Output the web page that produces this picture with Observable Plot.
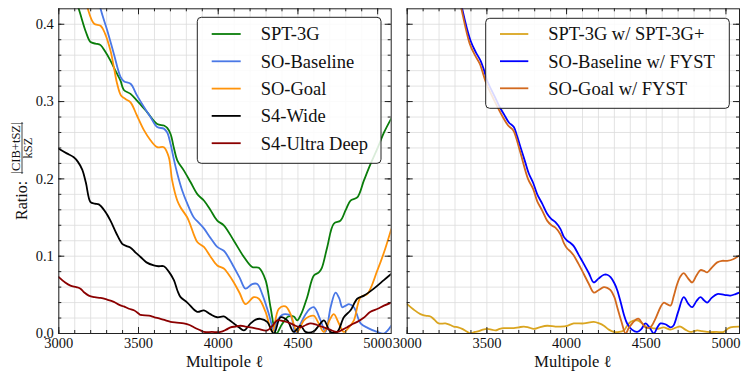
<!DOCTYPE html>
<html>
<head>
<meta charset="utf-8">
<script src="https://cdn.jsdelivr.net/npm/d3@7"></script>
<script src="https://cdn.jsdelivr.net/npm/@observablehq/plot@0.6"></script>
<style>
  body { margin: 0; background: #fff; }
  #wrap { position: relative; width: 748px; height: 379px; overflow: hidden; font-family: "Liberation Serif", "DejaVu Serif", serif; }
  .panel { position: absolute; top: 0; }
  #overlay { position: absolute; left: 0; top: 0; pointer-events: none; }
</style>
</head>
<body>
<div id="wrap">
  <div class="panel" id="left" style="left:0"></div>
  <div class="panel" id="right" style="left:398px"></div>
  <svg id="overlay" width="748" height="379"></svg>
</div>
<script>
// ---- tick labels ----
const xMajor = [3000, 3500, 4000, 4500, 5000];
const yMajor = [0.0, 0.1, 0.2, 0.3, 0.4];
const xMinor = d3.range(3000, 5100, 100);
const yMinor = d3.range(0, 0.42, 0.02);

// ---- left panel series: [multipole, ratio] ----
const spt3g = [[3060,0.46],[3125,0.42],[3170,0.39],[3199,0.377],[3230,0.375],[3262,0.373],[3290,0.365],[3324,0.353],[3360,0.338],[3387,0.327],[3408,0.315],[3450,0.31],[3492,0.301],[3555,0.286],[3617,0.271],[3659,0.269],[3680,0.266],[3701,0.258],[3722,0.24],[3743,0.224],[3784,0.211],[3826,0.196],[3870,0.18],[3910,0.172],[3950,0.16],[3994,0.146],[4035,0.14],[4098,0.12],[4161,0.099],[4213,0.086],[4255,0.085],[4297,0.069],[4328,0.034],[4365,0.0],[4400,0.012],[4440,0.022],[4474,0.022],[4495,0.017],[4520,0.025],[4558,0.047],[4600,0.075],[4631,0.079],[4650,0.085],[4684,0.112],[4725,0.142],[4767,0.146],[4800,0.16],[4830,0.172],[4872,0.176],[4914,0.198],[4955,0.219],[5000,0.24],[5040,0.26],[5085,0.278]];
const soBaseline = [[3200,0.48],[3262,0.42],[3304,0.392],[3345,0.362],[3387,0.332],[3410,0.326],[3450,0.323],[3490,0.308],[3534,0.293],[3575,0.28],[3617,0.267],[3659,0.265],[3680,0.26],[3701,0.245],[3722,0.225],[3743,0.207],[3774,0.185],[3806,0.168],[3847,0.15],[3870,0.145],[3910,0.136],[3950,0.124],[3994,0.112],[4035,0.107],[4060,0.1],[4098,0.086],[4135,0.072],[4171,0.058],[4213,0.064],[4245,0.064],[4276,0.051],[4318,0.025],[4349,0.004],[4370,0.017],[4400,0.024],[4422,0.025],[4454,0.023],[4485,0.0],[4515,0.012],[4548,0.025],[4575,0.032],[4600,0.034],[4642,0.017],[4673,0.002],[4705,0.034],[4736,0.053],[4760,0.045],[4778,0.034],[4800,0.036],[4820,0.038],[4851,0.034],[4893,0.013],[4940,0.007],[4997,0.002],[5039,0.0],[5085,0.01]];
const soGoal = [[3140,0.46],[3182,0.42],[3220,0.401],[3262,0.398],[3290,0.388],[3324,0.366],[3345,0.345],[3366,0.323],[3390,0.308],[3420,0.303],[3450,0.299],[3490,0.282],[3534,0.263],[3575,0.25],[3617,0.241],[3659,0.241],[3690,0.228],[3711,0.198],[3743,0.172],[3764,0.163],[3806,0.15],[3826,0.14],[3847,0.128],[3870,0.118],[3910,0.112],[3950,0.1],[3994,0.088],[4035,0.084],[4060,0.078],[4098,0.066],[4135,0.052],[4171,0.038],[4223,0.047],[4255,0.045],[4297,0.028],[4339,0.002],[4380,0.032],[4422,0.035],[4454,0.025],[4495,0.002],[4537,0.017],[4570,0.022],[4600,0.023],[4630,0.013],[4663,0.002],[4700,0.018],[4725,0.025],[4757,0.013],[4788,0.002],[4820,0.008],[4851,0.017],[4893,0.047],[4935,0.051],[4997,0.081],[5040,0.105],[5085,0.135]];
const s4Wide = [[3000,0.239],[3050,0.233],[3094,0.228],[3120,0.222],[3147,0.212],[3170,0.195],[3199,0.17],[3225,0.168],[3251,0.167],[3290,0.158],[3324,0.146],[3360,0.13],[3398,0.116],[3425,0.113],[3450,0.111],[3480,0.105],[3513,0.099],[3550,0.092],[3596,0.088],[3625,0.087],[3659,0.087],[3690,0.08],[3722,0.069],[3745,0.055],[3764,0.047],[3806,0.04],[3868,0.028],[3910,0.03],[3950,0.025],[3994,0.021],[4035,0.022],[4065,0.018],[4098,0.013],[4130,0.008],[4161,0.004],[4203,0.013],[4235,0.018],[4265,0.019],[4307,0.015],[4349,0.0],[4391,0.021],[4433,0.017],[4474,0.002],[4516,0.01],[4548,0.002],[4600,0.003],[4630,0.01],[4663,0.017],[4705,0.002],[4746,0.002],[4788,0.021],[4830,0.03],[4872,0.045],[4914,0.049],[4976,0.058],[5039,0.069],[5085,0.077]];
const s4UltraDeep = [[3000,0.073],[3040,0.066],[3073,0.062],[3110,0.06],[3136,0.058],[3160,0.053],[3188,0.049],[3225,0.047],[3262,0.046],[3300,0.044],[3345,0.041],[3380,0.037],[3408,0.035],[3440,0.032],[3471,0.03],[3500,0.026],[3513,0.024],[3565,0.023],[3600,0.021],[3638,0.019],[3670,0.017],[3701,0.015],[3740,0.014],[3784,0.013],[3820,0.011],[3847,0.008],[3889,0.004],[3910,0.002],[3960,0.002],[4015,0.002],[4050,0.005],[4077,0.008],[4110,0.009],[4140,0.01],[4170,0.009],[4203,0.008],[4250,0.006],[4307,0.004],[4340,0.01],[4370,0.017],[4410,0.016],[4454,0.013],[4485,0.01],[4516,0.008],[4550,0.011],[4579,0.013],[4620,0.011],[4663,0.008],[4700,0.005],[4746,0.002],[4780,0.005],[4809,0.008],[4840,0.012],[4872,0.015],[4910,0.02],[4955,0.028],[5000,0.032],[5039,0.036],[5085,0.04]];

// ---- right panel series ----
const sptPlus = [[3000,0.038],[3040,0.031],[3083,0.025],[3115,0.023],[3146,0.022],[3170,0.018],[3198,0.013],[3240,0.013],[3270,0.011],[3292,0.009],[3320,0.008],[3345,0.006],[3370,0.003],[3397,0.0],[3425,0.002],[3449,0.003],[3475,0.005],[3502,0.006],[3530,0.005],[3554,0.004],[3580,0.006],[3606,0.007],[3640,0.007],[3669,0.007],[3700,0.008],[3732,0.009],[3760,0.008],[3794,0.006],[3830,0.008],[3878,0.01],[3930,0.009],[3962,0.009],[4004,0.01],[4045,0.013],[4108,0.013],[4171,0.015],[4205,0.013],[4234,0.01],[4265,0.005],[4296,0.002],[4330,0.002],[4359,0.004],[4380,0.01],[4401,0.015],[4443,0.017],[4475,0.013],[4505,0.008],[4540,0.007],[4568,0.006],[4590,0.007],[4610,0.008],[4652,0.005],[4690,0.008],[4714,0.009],[4745,0.005],[4777,0.002],[4800,0.003],[4819,0.004],[4850,0.003],[4882,0.002],[4940,0.002],[4986,0.002],[5010,0.006],[5028,0.008],[5085,0.009]];
const soBaseFYST = [[3300,0.47],[3345,0.42],[3397,0.379],[3430,0.364],[3460,0.353],[3480,0.342],[3502,0.327],[3550,0.306],[3580,0.293],[3606,0.284],[3638,0.273],[3669,0.267],[3690,0.255],[3711,0.241],[3740,0.222],[3763,0.207],[3790,0.195],[3816,0.18],[3847,0.168],[3878,0.155],[3905,0.148],[3930,0.144],[3962,0.135],[3983,0.125],[4004,0.12],[4025,0.117],[4045,0.113],[4075,0.102],[4108,0.09],[4140,0.078],[4171,0.066],[4200,0.071],[4234,0.076],[4255,0.076],[4276,0.073],[4300,0.065],[4318,0.056],[4340,0.04],[4359,0.025],[4380,0.013],[4410,0.005],[4443,0.002],[4470,0.006],[4495,0.013],[4520,0.008],[4547,0.0],[4570,0.008],[4589,0.013],[4620,0.012],[4652,0.008],[4670,0.01],[4700,0.028],[4735,0.047],[4765,0.038],[4788,0.034],[4815,0.042],[4840,0.047],[4862,0.043],[4882,0.04],[4910,0.046],[4945,0.051],[4990,0.05],[5028,0.049],[5060,0.051],[5085,0.053]];
const soGoalFYST = [[3290,0.47],[3340,0.42],[3392,0.375],[3425,0.36],[3455,0.349],[3497,0.323],[3545,0.302],[3600,0.28],[3633,0.269],[3665,0.263],[3706,0.237],[3758,0.2],[3790,0.187],[3816,0.171],[3847,0.159],[3878,0.146],[3905,0.14],[3930,0.137],[3962,0.128],[3983,0.117],[4004,0.11],[4025,0.106],[4045,0.101],[4075,0.09],[4108,0.077],[4140,0.064],[4171,0.053],[4200,0.056],[4234,0.06],[4255,0.059],[4276,0.056],[4300,0.047],[4318,0.034],[4345,0.015],[4370,0.0],[4390,0.007],[4412,0.013],[4435,0.018],[4453,0.019],[4475,0.013],[4495,0.008],[4526,0.008],[4555,0.018],[4589,0.034],[4610,0.04],[4630,0.038],[4652,0.036],[4672,0.048],[4694,0.064],[4715,0.074],[4735,0.078],[4760,0.072],[4788,0.066],[4815,0.075],[4840,0.082],[4862,0.081],[4882,0.079],[4910,0.085],[4945,0.092],[4975,0.094],[5008,0.094],[5045,0.096],[5085,0.101]];

const leftSeries = [
  {name: "SPT-3G", data: spt3g, color: "#0a7d0a"},
  {name: "SO-Baseline", data: soBaseline, color: "#4a78e6"},
  {name: "SO-Goal", data: soGoal, color: "#ff930a"},
  {name: "S4-Wide", data: s4Wide, color: "#000000"},
  {name: "S4-Ultra Deep", data: s4UltraDeep, color: "#8b0000"}
];
const rightSeries = [
  {name: "SPT-3G w/ SPT-3G+", data: sptPlus, color: "#daa520"},
  {name: "SO-Baseline w/ FYST", data: soBaseFYST, color: "#0000ff"},
  {name: "SO-Goal w/ FYST", data: soGoalFYST, color: "#d2691e"}
];

const H = 379, MT = 8.3, MB = 46;
const innerH = H - MT - MB;
const xDomain = [3000, 5085];
const yDomain = [0, 0.42];

function panel(series, {width, marginLeft, marginRight, yLabels}) {
  const innerW = width - marginLeft - marginRight;
  const marks = [
    Plot.gridX(xMinor, {stroke: "#dcdcdc", strokeOpacity: 1, strokeWidth: 0.8}),
    Plot.gridY(yMinor, {stroke: "#dcdcdc", strokeOpacity: 1, strokeWidth: 0.8}),
    ...series.map(s => Plot.line(s.data, {x: d => d[0], y: d => d[1], stroke: s.color, strokeWidth: 1.8, curve: "catmull-rom", clip: true})),
    // inward ticks, bottom & top
    Plot.tickX(xMinor, {x: d => d, insetTop: innerH - 3, stroke: "#222"}),
    Plot.tickX(xMajor, {x: d => d, insetTop: innerH - 6, stroke: "#222"}),
    Plot.tickX(xMinor, {x: d => d, insetBottom: innerH - 3, stroke: "#222"}),
    Plot.tickX(xMajor, {x: d => d, insetBottom: innerH - 6, stroke: "#222"}),
    // inward ticks, left & right
    Plot.tickY(yMinor, {y: d => d, insetRight: innerW - 3, stroke: "#222"}),
    Plot.tickY(yMajor, {y: d => d, insetRight: innerW - 6, stroke: "#222"}),
    Plot.tickY(yMinor, {y: d => d, insetLeft: innerW - 3, stroke: "#222"}),
    Plot.tickY(yMajor, {y: d => d, insetLeft: innerW - 6, stroke: "#222"}),
    Plot.frame({stroke: "#222", strokeWidth: 1}),
    Plot.axisX(xMajor, {anchor: "bottom", tickSize: 0, tickPadding: 4, tickFormat: d => String(d), label: null})
  ];
  if (yLabels) marks.push(Plot.axisY(yMajor, {anchor: "left", tickSize: 0, tickPadding: 5, tickFormat: d3.format(".1f"), label: null}));
  return Plot.plot({
    width, height: H,
    marginLeft, marginRight, marginTop: MT, marginBottom: MB,
    x: {domain: xDomain, axis: null},
    y: {domain: yDomain, axis: null},
    style: {fontFamily: "'Liberation Serif', serif", fontSize: "14.5px", color: "#111", background: "transparent", overflow: "visible"},
    marks
  });
}

document.getElementById("left").append(panel(leftSeries, {width: 398, marginLeft: 58.3, marginRight: 7.3, yLabels: true}));
document.getElementById("right").append(panel(rightSeries, {width: 350, marginLeft: 8.7, marginRight: 9, yLabels: false}));

// ---- overlay: axis titles and legends ----
const ov = d3.select("#overlay").style("font-family", "'Liberation Serif', serif").attr("fill", "#111");
ov.append("text").attr("x", 224.5).attr("y", 366.5).attr("text-anchor", "middle").attr("font-size", 16.5).text("Multipole ℓ");
ov.append("text").attr("x", 572.8).attr("y", 366.5).attr("text-anchor", "middle").attr("font-size", 16.5).text("Multipole ℓ");

const yl = ov.append("g");
yl.append("text").attr("transform", "translate(26.5,220) rotate(-90)").attr("font-size", 16).text("Ratio:");
yl.append("text").attr("transform", "translate(19.5,148) rotate(-90)").attr("text-anchor", "middle").attr("font-size", 12.5).text("|CIB+tSZ|");
yl.append("text").attr("transform", "translate(31.5,148) rotate(-90)").attr("text-anchor", "middle").attr("font-size", 12.5).text("kSZ");
yl.append("line").attr("x1", 22).attr("x2", 22).attr("y1", 122).attr("y2", 174).attr("stroke", "#111").attr("stroke-width", 0.8);

function legend(series, box, lineX0, lineX1, textX, rows) {
  const g = ov.append("g");
  g.append("rect").attr("x", box.x).attr("y", box.y).attr("width", box.w).attr("height", box.h)
    .attr("rx", 4).attr("fill", "#fff").attr("fill-opacity", 0.85).attr("stroke", "#222").attr("stroke-width", 1);
  series.forEach((s, i) => {
    const y = rows[i];
    g.append("line").attr("x1", lineX0).attr("x2", lineX1).attr("y1", y).attr("y2", y).attr("stroke", s.color).attr("stroke-width", 1.8);
    g.append("text").attr("x", textX).attr("y", y + 6.3).attr("font-size", 18.5).text(s.name);
  });
}
legend(leftSeries, {x: 197.3, y: 17.3, w: 183.7, h: 146}, 211.7, 240.7, 260.7, [34, 61.3, 88.6, 115.9, 143.2]);
legend(rightSeries, {x: 485.7, y: 18.3, w: 243.6, h: 90}, 500, 528.3, 548.3, [34, 61.2, 88.3]);
</script>
</body>
</html>
